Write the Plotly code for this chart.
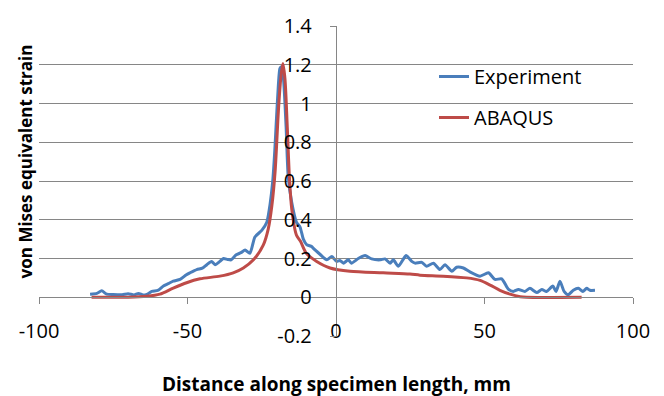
import plotly.graph_objects as go

# ---- data ----
exp_x = [-82.8, -80.5, -78.9, -77.2, -75.0, -72.0, -70.0, -68.0, -66.5, -65.0, -63.7, -62.0,
         -60.0, -58.1, -56.5, -54.8, -52.5, -50.5, -49.2, -46.9, -45.0, -43.5, -41.9, -40.7,
         -39.1, -37.9, -36.5, -35.3, -33.6, -32.0, -30.6, -29.0, -27.3, -25.0, -23.3, -22.2,
         -21.3, -20.6, -20.2, -19.4, -18.9, -18.4, -17.7, -16.8, -16.1, -14.9, -13.3, -12.1,
         -11.0, -9.9, -8.2, -7.6, -5.4, -3.1, -1.4, 0.2, 1.3, 2.5, 4.1, 5.2, 7.5, 9.8, 12.0,
         14.8, 16.5, 18.2, 19.3, 21.0, 23.6, 25.5, 26.6, 28.9, 30.5, 32.8, 35.0, 36.7, 39.0,
         40.6, 42.9, 45.1, 48.5, 51.3, 53.5, 55.8, 58.0, 59.7, 61.4, 63.6, 65.3, 67.6, 69.3,
         70.9, 73.0, 74.1, 75.4, 76.8, 78.2, 79.9, 81.6, 83.1, 84.4, 85.5, 87.2]
exp_y = [0.016, 0.020, 0.033, 0.016, 0.014, 0.013, 0.018, 0.012, 0.020, 0.012, 0.015, 0.030,
         0.035, 0.058, 0.070, 0.083, 0.092, 0.115, 0.126, 0.143, 0.150, 0.168, 0.185, 0.168,
         0.185, 0.200, 0.195, 0.193, 0.219, 0.230, 0.244, 0.227, 0.311, 0.345, 0.387, 0.480,
         0.600, 0.760, 0.877, 1.096, 1.180, 1.190, 1.130, 0.880, 0.624, 0.489, 0.387, 0.362,
         0.300, 0.272, 0.262, 0.252, 0.222, 0.193, 0.210, 0.185, 0.190, 0.176, 0.193, 0.176,
         0.200, 0.215, 0.198, 0.193, 0.198, 0.176, 0.193, 0.160, 0.215, 0.185, 0.176, 0.180,
         0.160, 0.176, 0.143, 0.168, 0.134, 0.155, 0.151, 0.131, 0.109, 0.126, 0.092, 0.095,
         0.042, 0.030, 0.040, 0.030, 0.046, 0.024, 0.040, 0.030, 0.058, 0.030, 0.083, 0.030,
         0.013, 0.036, 0.046, 0.030, 0.046, 0.036, 0.036]

abq_x = [-82.3, -70.0, -63.7, -59.3, -54.8, -50.3, -45.8, -39.1, -34.6, -31.2, -27.8, -24.5,
         -22.8, -21.6, -20.5, -19.4, -18.6, -17.9, -17.2, -16.4, -15.7, -14.9, -13.3, -12.0,
         -9.9, -6.5, -2.0, 4.7, 15.9, 24.9, 28.3, 36.1, 44.0, 48.5, 51.9, 55.2, 58.6, 62.0,
         64.2, 82.7]
abq_y = [0.0, 0.0, 0.005, 0.016, 0.047, 0.075, 0.095, 0.109, 0.126, 0.151, 0.193, 0.269,
         0.353, 0.472, 0.650, 0.961, 1.130, 1.206, 1.130, 0.877, 0.624, 0.455, 0.320, 0.290,
         0.225, 0.185, 0.151, 0.134, 0.126, 0.120, 0.114, 0.109, 0.100, 0.087, 0.063, 0.036,
         0.016, 0.003, 0.0, 0.0]

x_ticks = [-100, -50, 0, 50, 100]
x_tick_text = ["-100", "-50", "0", "50", "100"]
y_ticks = [-0.2, 0, 0.2, 0.4, 0.6, 0.8, 1.0, 1.2, 1.4]
y_tick_text = ["-0.2", "0", "0.2", "0.4", "0.6", "0.8", "1", "1.2", "1.4"]

FONT = "Open Sans"
GRID = "#868686"

fig = go.Figure()
fig.add_trace(go.Scatter(x=exp_x, y=exp_y, mode="lines", name="Experiment",
                         legendgroup="a",
                         line=dict(color="#4A7EBB", width=3, shape="spline", smoothing=0.6)))
fig.add_trace(go.Scatter(x=abq_x, y=abq_y, mode="lines", name="ABAQUS",
                         legendgroup="b",
                         line=dict(color="#BE4B48", width=3, shape="spline", smoothing=0.8)))

fig.update_layout(
    width=664, height=396,
    margin=dict(l=39, r=31, t=20, b=60),
    paper_bgcolor="white", plot_bgcolor="white",
    font=dict(family=FONT, size=20, color="black"),
    showlegend=True,
    legend=dict(x=0.665, y=0.90, xanchor="left", yanchor="top",
                bgcolor="rgba(0,0,0,0)", font=dict(family=FONT, size=20),
                traceorder="grouped", tracegroupgap=12),
    xaxis=dict(range=[-100, 100], tickvals=x_ticks, ticktext=x_tick_text,
               showgrid=False, zeroline=False,
               showline=True, linecolor=GRID, linewidth=1.4,
               ticks="outside", ticklen=6, tickcolor=GRID, tickwidth=1.4,
               anchor="free", position=0.125, ticklabelstandoff=10,
               tickfont=dict(family=FONT, size=20)),
    yaxis=dict(range=[-0.2, 1.4], tickvals=y_ticks, ticktext=y_tick_text,
               showgrid=True, gridcolor=GRID, gridwidth=1.4, zeroline=False,
               showline=True, linecolor=GRID, linewidth=1.4,
               ticks="outside", ticklen=6, tickcolor=GRID, tickwidth=1.4,
               anchor="free", position=0.5, ticklabelstandoff=14,
               tickfont=dict(family=FONT, size=20)),
    annotations=[
        dict(text="<b>von Mises equivalent strain</b>", xref="paper", yref="paper",
             x=-0.022, y=0.563, textangle=-90, showarrow=False,
             font=dict(family=FONT, size=17, color="black"), xanchor="center", yanchor="middle"),
        dict(text="<b>Distance along specimen length, mm</b>", xref="paper", yref="paper",
             x=0.5, y=-0.155, showarrow=False,
             font=dict(family=FONT, size=19, color="black"), xanchor="center", yanchor="middle"),
    ],
)

fig.write_html("out.html")
